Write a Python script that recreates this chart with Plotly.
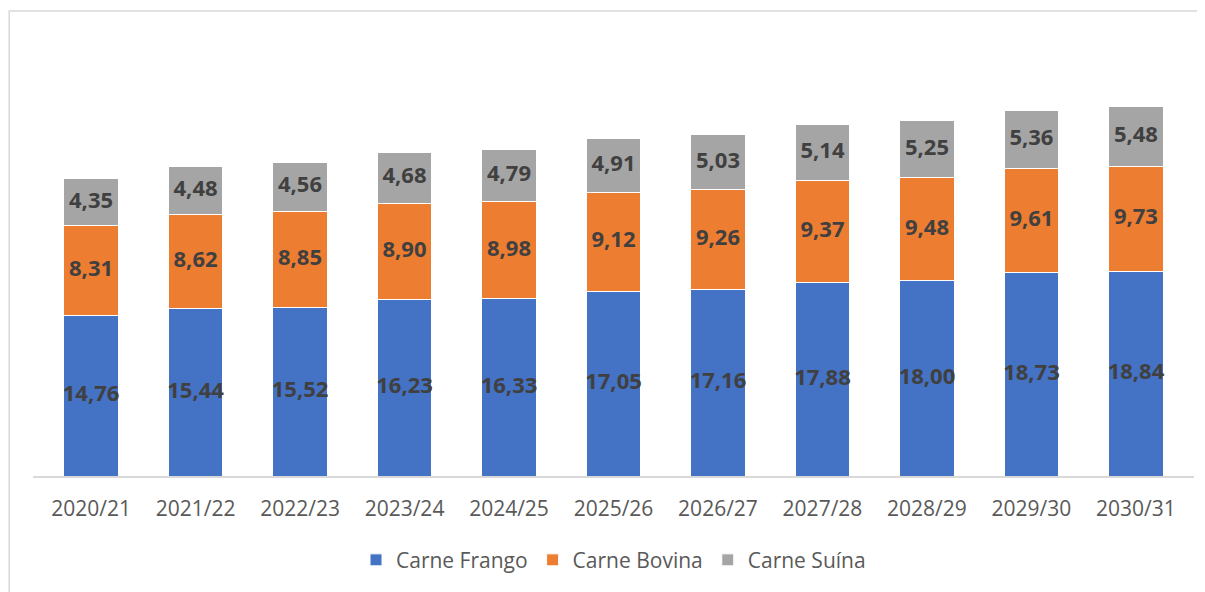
import plotly.graph_objects as go

safras = ["2020/21", "2021/22", "2022/23", "2023/24", "2024/25", "2025/26",
          "2026/27", "2027/28", "2028/29", "2029/30", "2030/31"]
frango = [14.76, 15.44, 15.52, 16.23, 16.33, 17.05, 17.16, 17.88, 18.00, 18.73, 18.84]
bovina = [8.31, 8.62, 8.85, 8.90, 8.98, 9.12, 9.26, 9.37, 9.48, 9.61, 9.73]
suina = [4.35, 4.48, 4.56, 4.68, 4.79, 4.91, 5.03, 5.14, 5.25, 5.36, 5.48]

series = [
    ("Carne Frango", frango, "#4472C4"),
    ("Carne Bovina", bovina, "#ED7D31"),
    ("Carne Suína", suina, "#A5A5A5"),
]

FONT = "Open Sans"
LABEL = "#404040"
AXIS_TXT = "#595959"

fig = go.Figure()
base = [0.0] * len(safras)
for name, vals, color in series:
    fig.add_trace(go.Bar(
        x=safras, y=vals, name=name,
        marker=dict(color=color, line=dict(color="white", width=1)),
        hoverinfo="skip",
    ))
    # rotulos centrados em cada segmento
    mids = [b + v / 2 for b, v in zip(base, vals)]
    fig.add_trace(go.Scatter(
        x=safras, y=mids, mode="text",
        text=[f"{v:.2f}".replace(".", ",") for v in vals],
        textfont=dict(family=FONT, size=22, color=LABEL, weight="bold"),
        showlegend=False, hoverinfo="skip",
    ))
    base = [b + v for b, v in zip(base, vals)]

# a pagina tem margem de 8px no body
fig.update_layout(
    width=1197, height=584,
    barmode="stack", bargap=0.48,
    paper_bgcolor="white", plot_bgcolor="white",
    margin=dict(l=25, r=11, t=34, b=108),
    font=dict(family=FONT, size=21, color=AXIS_TXT),
    legend=dict(
        orientation="h", x=0.5, xanchor="center", y=-0.194, yanchor="middle",
        font=dict(size=21, color=AXIS_TXT), traceorder="normal",
        itemwidth=30,
    ),
    shapes=[dict(
        type="rect", xref="paper", yref="paper",
        x0=-0.0205, x1=1.05, y0=-0.4, y1=1.0714,
        line=dict(color="#D9D9D9", width=1.5), layer="below",
    )],
)
fig.update_xaxes(showline=True, linecolor="#D9D9D9", linewidth=1.5,
                 ticks="", showgrid=False, ticklabelstandoff=13,
                 tickfont=dict(size=21, color=AXIS_TXT))
fig.update_yaxes(visible=False, range=[0, 40], showgrid=False)

fig.write_html("out.html")
